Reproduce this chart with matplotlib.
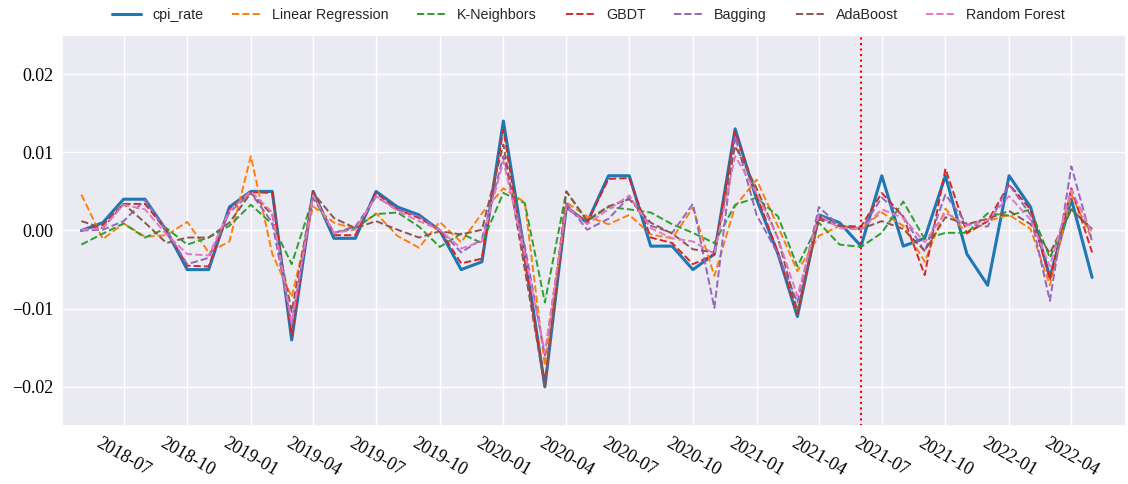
import matplotlib
matplotlib.use("Agg")
import matplotlib.pyplot as plt
import matplotlib.dates as mdates
import seaborn as sns
import pandas as pd
import numpy as np

months = pd.date_range("2018-05-01", periods=49, freq="MS")

cpi_rate = [0.000, 0.001, 0.004, 0.004, 0.000, -0.005, -0.005, 0.003, 0.005, 0.005,
            -0.014, 0.005, -0.001, -0.001, 0.005, 0.003, 0.002, 0.000, -0.005, -0.004,
            0.014, -0.003, -0.020, 0.003, 0.001, 0.007, 0.007, -0.002, -0.002, -0.005,
            -0.003, 0.013, 0.004, -0.003, -0.011, 0.002, 0.001, -0.002, 0.007, -0.002,
            -0.001, 0.007, -0.003, -0.007, 0.007, 0.003, -0.006, 0.004, -0.006]

linear_regression = [0.0046, -0.0011, 0.0009, -0.0008, -0.0006, 0.0011, -0.0028, -0.0014, 0.0095, -0.0030,
                     -0.0085, 0.0031, 0.0010, 0.0002, 0.0022, -0.0007, -0.0022, 0.0011, -0.0015, 0.0022,
                     0.0054, 0.0036, -0.0173, 0.0036, 0.0018, 0.0008, 0.0020, -0.0005, -0.0010, 0.0029,
                     -0.0058, 0.0031, 0.0065, 0.0005, -0.0052, -0.0007, 0.0006, 0.0003, 0.0023, 0.0006,
                     -0.0040, 0.0028, -0.0004, 0.0012, 0.0020, 0.0002, -0.0070, 0.0046, -0.0011]

k_neighbors = [-0.0018, -0.0004, 0.0009, -0.0009, 0.0003, -0.0018, -0.0009, 0.0006, 0.0033, 0.0008,
               -0.0043, 0.0042, -0.0003, 0.0003, 0.0021, 0.0023, 0.0005, -0.0021, -0.0004, -0.0016,
               0.0048, 0.0035, -0.0092, 0.0050, 0.0012, 0.0030, 0.0027, 0.0023, 0.0008, -0.0003,
               -0.0016, 0.0033, 0.0042, 0.0018, -0.0046, 0.0010, -0.0018, -0.0021, -0.0003, 0.0037,
               -0.0011, -0.0003, -0.0003, 0.0022, 0.0019, 0.0027, -0.0035, 0.0027, 0.0001]

gbdt = [0.0000, 0.0007, 0.0034, 0.0034, 0.0000, -0.0045, -0.0046, 0.0027, 0.0049, 0.0048,
        -0.0135, 0.0050, -0.0006, -0.0006, 0.0048, 0.0027, 0.0016, 0.0001, -0.0042, -0.0036,
        0.0129, -0.0040, -0.0195, 0.0031, 0.0010, 0.0066, 0.0067, -0.0009, -0.0016, -0.0043,
        -0.0031, 0.0127, 0.0045, -0.0028, -0.0107, 0.0017, 0.0006, 0.0005, 0.0048, 0.0018,
        -0.0057, 0.0079, -0.0003, 0.0012, 0.0059, 0.0027, -0.0063, 0.0054, -0.0028]

bagging = [0.0000, 0.0001, 0.0012, 0.0039, 0.0000, -0.0043, -0.0035, 0.0023, 0.0048, 0.0010,
           -0.0120, 0.0045, -0.0003, 0.0005, 0.0043, 0.0027, 0.0018, 0.0001, -0.0028, -0.0011,
           0.0095, -0.0020, -0.0160, 0.0035, 0.0001, 0.0015, 0.0043, 0.0006, -0.0003, 0.0034,
           -0.0099, 0.0120, 0.0020, -0.0030, -0.0092, 0.0030, 0.0006, 0.0001, 0.0042, 0.0018,
           -0.0027, 0.0046, 0.0008, 0.0005, 0.0059, 0.0020, -0.0090, 0.0082, -0.0014]

adaboost = [0.0012, 0.0003, 0.0034, 0.0010, -0.0016, -0.0009, -0.0009, 0.0010, 0.0048, 0.0020,
            -0.0104, 0.0048, 0.0016, 0.0003, 0.0012, 0.0001, -0.0009, -0.0001, -0.0005, 0.0001,
            0.0110, -0.0050, -0.0200, 0.0050, 0.0013, 0.0031, 0.0040, 0.0010, -0.0004, -0.0024,
            -0.0028, 0.0108, 0.0054, -0.0010, -0.0103, 0.0014, 0.0006, 0.0002, 0.0012, 0.0002,
            -0.0026, 0.0017, 0.0008, 0.0015, 0.0025, 0.0008, -0.0029, 0.0027, 0.0002]

random_forest = [0.0001, 0.0003, 0.0033, 0.0027, -0.0005, -0.0030, -0.0032, 0.0025, 0.0050, 0.0023,
                 -0.0118, 0.0045, -0.0003, 0.0001, 0.0044, 0.0025, 0.0012, 0.0001, -0.0023, -0.0014,
                 0.0089, -0.0030, -0.0156, 0.0031, 0.0008, 0.0027, 0.0045, 0.0003, -0.0010, -0.0014,
                 -0.0030, 0.0095, 0.0048, -0.0010, -0.0084, 0.0020, 0.0003, 0.0001, 0.0027, 0.0016,
                 -0.0015, 0.0023, 0.0006, 0.0013, 0.0044, 0.0014, -0.0046, 0.0052, -0.0003]

model_names = ["Linear Regression", "K-Neighbors", "GBDT", "Bagging", "AdaBoost", "Random Forest"]
model_values = [linear_regression, k_neighbors, gbdt, bagging, adaboost, random_forest]
split_date = "2021-06-01"

sns.set_theme(style="darkgrid")
plt.rcParams["font.family"] = ["Liberation Serif", "DejaVu Serif"]
plt.rcParams["axes.unicode_minus"] = True

fig = plt.figure(figsize=(11.28, 4.84), dpi=100)
ax = fig.add_axes([62 / 1128, (484 - 426) / 484, (1126 - 62) / 1128, (426 - 35) / 484])

palette = sns.color_palette("tab10")
ax.plot(months, cpi_rate, color=palette[0], lw=2.2, label="cpi_rate")
for k, (name, vals) in enumerate(zip(model_names, model_values)):
    ax.plot(months, vals, color=palette[k + 1], lw=1.4, ls="--", label=name)

ax.axvline(pd.Timestamp(split_date), color="red", ls=":", lw=1.5)

ax.set_ylim(-0.025, 0.025)
ax.set_yticks([-0.02, -0.01, 0.0, 0.01, 0.02])
ax.set_xlim(pd.Timestamp("2018-04-03"), pd.Timestamp("2022-06-19"))
ax.xaxis.set_major_locator(mdates.MonthLocator(bymonth=[1, 4, 7, 10]))
ax.xaxis.set_major_formatter(mdates.DateFormatter("%Y-%m"))
for lab in ax.get_xticklabels():
    lab.set_rotation(-30)
    lab.set_ha("center")
ax.tick_params(axis="both", labelsize=13, colors="black", length=0)
ax.tick_params(axis="y", pad=6)
ax.tick_params(axis="x", pad=6)

leg = ax.legend(loc="lower center", bbox_to_anchor=(0.495, 1.0), ncol=7, frameon=False,
                prop={"family": "Liberation Sans", "size": 10.3})

fig.savefig("out.png", dpi=100)
